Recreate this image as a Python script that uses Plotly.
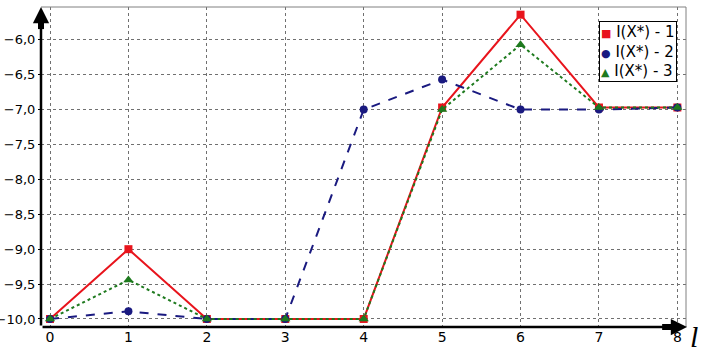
import plotly.graph_objects as go

x_vals = [0, 1, 2, 3, 4, 5, 6, 7, 8]
s1 = [-10.0, -9.0, -10.0, -10.0, -10.0, -6.97, -5.64, -6.97, -6.97]
s2 = [-10.0, -9.89, -10.0, -10.0, -7.0, -6.57, -7.0, -7.0, -6.97]
s3 = [-10.0, -9.44, -10.0, -10.0, -10.0, -7.0, -6.07, -6.97, -6.97]
names = ["I(X*) - 1", "I(X*) - 2", "I(X*) - 3"]
y_ticks = [-6.0, -6.5, -7.0, -7.5, -8.0, -8.5, -9.0, -9.5, -10.0]

colors = ["#e8141c", "#1a1a80", "#1e7a1e"]
dashes = ["solid", "dash", "dot"]
symbols = ["square", "circle", "triangle-up"]
glyphs = ["■", "●", "▲"]
msizes = [8, 8, 9]
series = [s1, s2, s3]

FONT = "DejaVu Sans, Verdana, sans-serif"

fig = go.Figure()
for i in range(3):
    fig.add_trace(go.Scatter(x=x_vals, y=series[i], name=names[i], mode="lines+markers",
                             line=dict(color=colors[i], width=2, dash=dashes[i]),
                             marker=dict(symbol=symbols[i], size=msizes[i], color=colors[i]),
                             showlegend=False))

grid = dict(showgrid=True, gridcolor="#707070", griddash="dot", gridwidth=1)
fig.update_layout(
    width=705, height=352,
    margin=dict(l=41, r=19, t=7, b=25),
    paper_bgcolor="white", plot_bgcolor="white",
    separators=", ",
    font=dict(family=FONT, size=15, color="black"),
    xaxis=dict(range=[-0.115, 8.11], tickvals=x_vals, ticks="", zeroline=False,
               automargin=False, showline=False, **grid, tickfont=dict(size=14)),
    yaxis=dict(range=[-10.115, -5.53], tickvals=y_ticks, tickformat=".1f",
               ticks="outside", ticklen=2, tickcolor="black", zeroline=False,
               automargin=False, showline=False, **grid, tickfont=dict(size=13)),
    showlegend=False,
)
# legend box (annotation-based, compact like the reference)
legend_lines = [
    "<span style='color:%s;font-size:11px'>%s</span> %s" % (colors[i], glyphs[i], names[i])
    for i in range(3)
]
fig.add_annotation(xref="paper", yref="paper", x=0.865, y=0.955,
                   xanchor="left", yanchor="top", align="left", showarrow=False,
                   text="<br>".join(legend_lines), bgcolor="white",
                   bordercolor="black", borderwidth=1, borderpad=1,
                   font=dict(family=FONT, size=15, color="black"))
# frame top/right
fig.add_shape(type="line", xref="paper", yref="paper", x0=0, x1=1, y0=1, y1=1,
              line=dict(color="#808080", width=1))
fig.add_shape(type="line", xref="paper", yref="paper", x0=1, x1=1, y0=0, y1=1,
              line=dict(color="#808080", width=1))
# axes with arrows
fig.add_annotation(xref="paper", yref="paper", x=0, y=1.0, ax=0, ay=320,
                   showarrow=True, arrowhead=2, arrowsize=1.3, arrowwidth=2.5,
                   arrowcolor="black", text="")
fig.add_annotation(xref="paper", yref="paper", x=1.0016, y=0, ax=-646, ay=0,
                   showarrow=True, arrowhead=2, arrowsize=1.3, arrowwidth=2.5,
                   arrowcolor="black", text="")
# thick arrow shafts
fig.add_shape(type="line", xref="paper", yref="paper", x0=0, x1=0, y0=0.931, y1=0.972,
              line=dict(color="black", width=6))
fig.add_shape(type="line", xref="paper", yref="paper", x0=0.963, x1=0.985, y0=0, y1=0,
              line=dict(color="black", width=6))
fig.add_annotation(xref="paper", yref="paper", x=1.0124, y=-0.03, xanchor="center",
                   yanchor="middle", showarrow=False, text="<i>l</i>",
                   borderpad=0,
                   font=dict(family="Liberation Serif, serif", size=30))

fig.write_html("out.html", config={"displayModeBar": False},
               post_script="document.body.style.margin='0';document.body.style.overflow='hidden';")
